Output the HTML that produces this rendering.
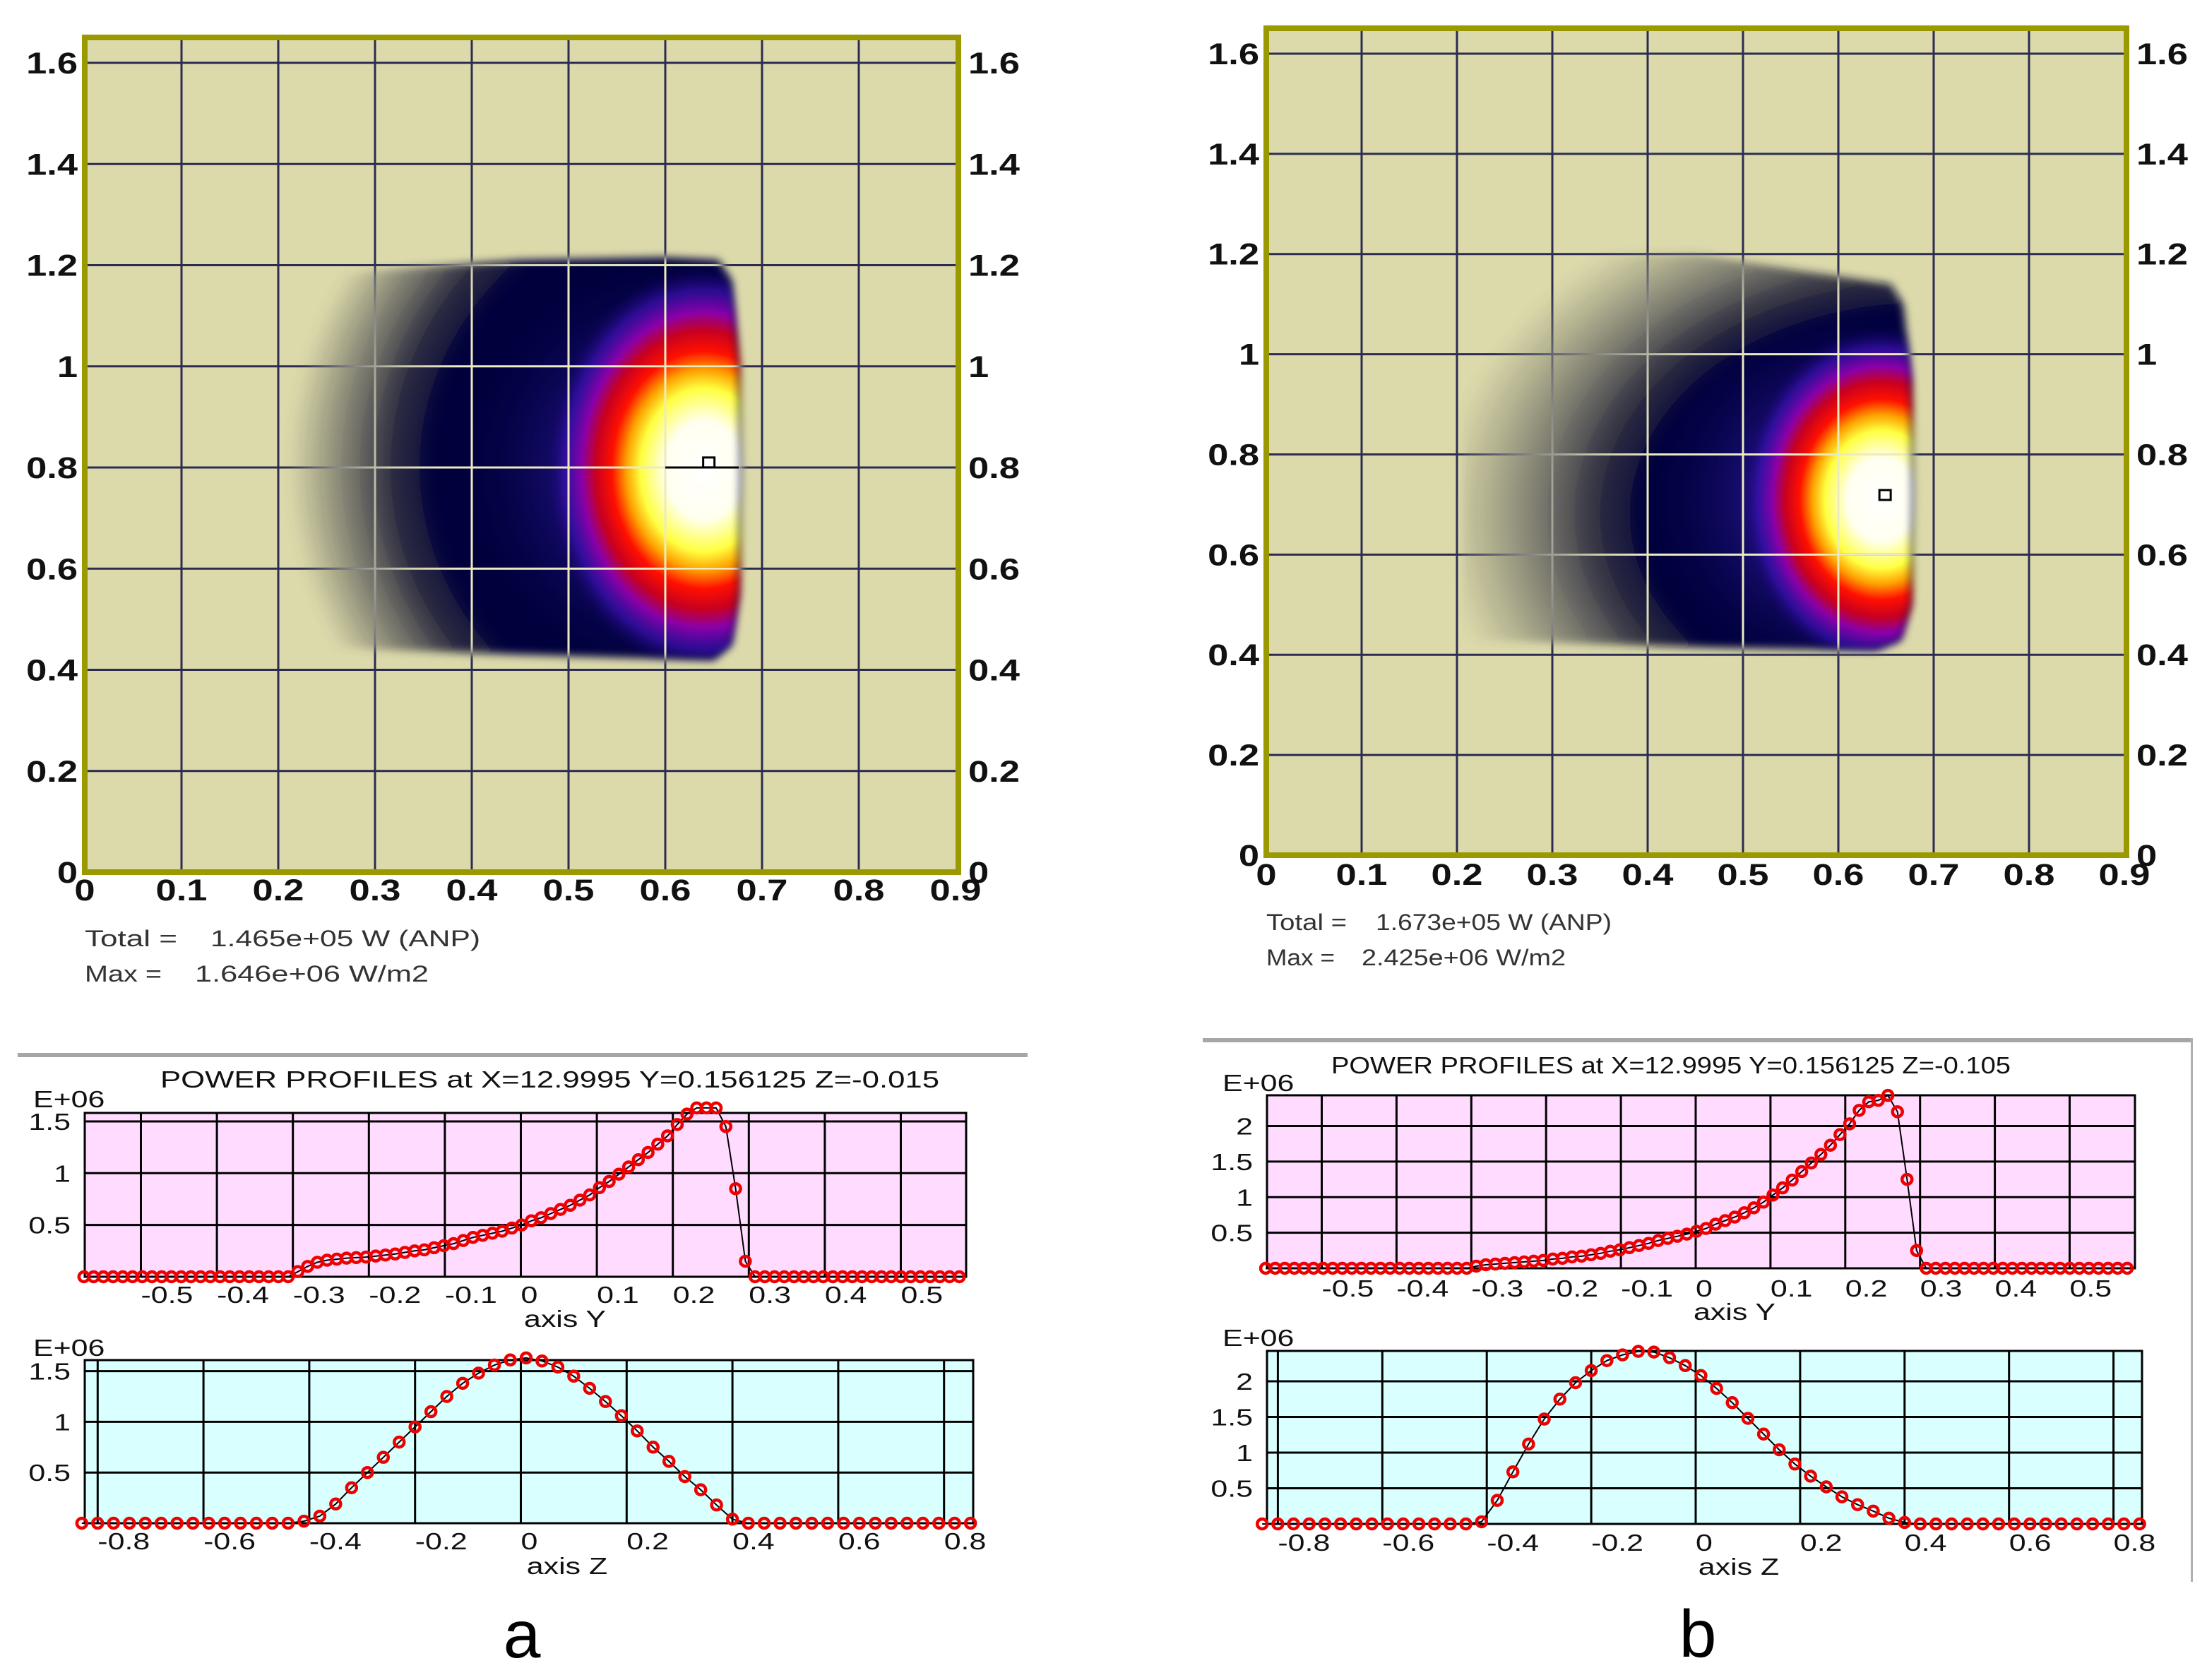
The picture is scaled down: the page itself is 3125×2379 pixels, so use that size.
<!DOCTYPE html>
<html><head><meta charset="utf-8">
<style>
html,body{margin:0;padding:0;background:#fff;}
svg{display:block;}
text{font-family:"Liberation Sans",sans-serif;}
</style></head>
<body>
<svg id="root" xmlns="http://www.w3.org/2000/svg" width="3125" height="2379" viewBox="0 0 3125 2379">
<rect x="0" y="0" width="3125" height="2379" fill="#ffffff"/>
<defs id="defs"></defs>
</svg>
<script>
// ---------- data ----------
const profYStart = -0.575;
const profYStep = 0.0128;
const profZStart = -0.83;
const profZStep = 0.03;
const aYVals = [0,0,0,0,0,0,0,0,0,0,0,0,0,0,0,0,0,0,0,0,0,0,
 0.05,0.10,0.14,0.16,0.17,0.18,0.185,0.19,0.20,0.21,0.22,0.235,0.25,0.26,0.28,0.30,0.32,0.35,0.38,0.40,
 0.42,0.44,0.47,0.50,0.54,0.57,0.61,0.65,0.69,0.74,0.79,0.86,0.92,0.99,1.06,1.13,1.20,1.28,1.36,1.47,
 1.57,1.63,1.63,1.63,1.45,0.85,0.15,
 0,0,0,0,0,0,0,0,0,0,0,0,0,0,0,0,0,0,0,0,0,0];
const bYVals = [0,0,0,0,0,0,0,0,0,0,0,0,0,0,0,0,0,0,0,0,0,0,
 0.03,0.05,0.06,0.07,0.08,0.09,0.10,0.11,0.13,0.14,0.16,0.17,0.19,0.21,0.24,0.26,0.29,0.32,0.35,0.39,
 0.42,0.45,0.48,0.52,0.56,0.62,0.67,0.72,0.78,0.85,0.93,1.03,1.13,1.24,1.36,1.48,1.60,1.73,1.88,2.03,
 2.22,2.34,2.36,2.43,2.20,1.25,0.25,
 0,0,0,0,0,0,0,0,0,0,0,0,0,0,0,0,0,0,0,0,0,0];
const aZVals = [0,0,0,0,0,0,0,0,0,0,0,0,0,0,
 0.02,0.07,0.19,0.35,0.50,0.65,0.80,0.95,1.10,1.25,1.38,1.48,1.56,1.61,1.63,1.60,1.54,1.45,1.33,1.20,
 1.06,0.91,0.75,0.61,0.46,0.33,0.18,0.04,
 0,0,0,0,0,0,0,0,0,0,0,0,0,0,0];
const bZVals = [0,0,0,0,0,0,0,0,0,0,0,0,0,0,
 0.03,0.33,0.73,1.12,1.47,1.75,1.98,2.15,2.29,2.37,2.42,2.41,2.33,2.22,2.08,1.90,1.70,1.48,1.26,1.04,
 0.84,0.67,0.52,0.38,0.27,0.18,0.08,0.02,
 0,0,0,0,0,0,0,0,0,0,0,0,0,0,0];
const yTickVals = [-0.5,-0.4,-0.3,-0.2,-0.1,0,0.1,0.2,0.3,0.4,0.5];
const yTickLabels = ["-0.5","-0.4","-0.3","-0.2","-0.1","0","0.1","0.2","0.3","0.4","0.5"];
const zTickVals = [-0.8,-0.6,-0.4,-0.2,0,0.2,0.4,0.6,0.8];
const zTickLabels = ["-0.8","-0.6","-0.4","-0.2","0","0.2","0.4","0.6","0.8"];
const aPowTicks = [0.5,1,1.5];
const aPowLabels = ["0.5","1","1.5"];
const bPowTicks = [0.5,1,1.5,2];
const bPowLabels = ["0.5","1","1.5","2"];
const heatXTicks = [0,0.1,0.2,0.3,0.4,0.5,0.6,0.7,0.8,0.9];
const heatXLabels = ["0","0.1","0.2","0.3","0.4","0.5","0.6","0.7","0.8","0.9"];
const heatYTicks = [0,0.2,0.4,0.6,0.8,1,1.2,1.4,1.6];
const heatYLabels = ["0","0.2","0.4","0.6","0.8","1","1.2","1.4","1.6"];
const aHotSpot = [0.64, 0.795];
const bHotSpot = [0.645, 0.71];
const aCursor = [0.645, 0.81];
const bCursor = [0.649, 0.719];

// ---------- helpers ----------
const NS = "http://www.w3.org/2000/svg";
const root = document.getElementById('root');
const defs = document.getElementById('defs');
function mk(tag, attrs, parent){
  const e = document.createElementNS(NS, tag);
  for (const k in attrs) e.setAttribute(k, attrs[k]);
  (parent || root).appendChild(e);
  return e;
}
function label(parent, x, y, str, size, anchor, bold, sx, fill){
  const g = mk('g', {transform:'translate('+x+','+y+') scale('+sx+',1)'}, parent);
  const t = mk('text', {x:0, y:0, 'font-size':size, 'text-anchor':anchor, 'font-weight':bold?'bold':'normal', fill:fill||'#111'}, g);
  t.textContent = str;
  return t;
}

// ---------- heatmaps ----------
function drawHeat(c, id){
  const g = mk('g', {});
  
  
  const X = v => c.x0 + v * c.kx;
  const Y = v => c.y0 - v * c.ky;
  const bg = mk('rect', {x:c.L, y:c.T, width:c.R-c.L, height:c.B-c.T, fill:'#dcdaab'}, g);
  
  
  const pts = arr => arr.map(p => X(p[0]).toFixed(1)+','+Y(p[1]).toFixed(1)).join(' ');
  const fb = mk('filter', {id:'blur'+id, x:'-20%', y:'-20%', width:'140%', height:'140%'}, defs);
  mk('feGaussianBlur', {stdDeviation:6}, fb);
  const cx = X(c.fadeC[0]), cy = Y(c.fadeC[1]);
  const gt = 'translate('+cx+','+cy+') scale(1,'+c.fadeSy+') translate('+(-cx)+','+(-cy)+')';
  const dg = mk('radialGradient', {id:'dark'+id, gradientUnits:'userSpaceOnUse', cx:cx, cy:cy, r:c.fadeR, fx:cx, fy:cy, gradientTransform:gt}, defs);
  c.fadeStops.forEach(s=>mk('stop',{offset:s[0],'stop-color':s[1],'stop-opacity':s[2]},dg));
  const mg = mk('radialGradient', {id:'mgrad'+id, gradientUnits:'userSpaceOnUse', cx:cx, cy:cy, r:c.fadeR, fx:cx, fy:cy, gradientTransform:gt}, defs);
  c.fadeStops.forEach(s=>mk('stop',{offset:s[0],'stop-color':'#fff','stop-opacity':s[2]},mg));
  const msk = mk('mask', {id:'mask'+id, maskUnits:'userSpaceOnUse', x:0, y:0, width:3125, height:2379}, defs);
  mk('polygon', {points:pts(c.shape), fill:'#fff', filter:'url(#blur'+id+')'}, msk);
  const msk2 = mk('mask', {id:'maskL'+id, maskUnits:'userSpaceOnUse', x:0, y:0, width:3125, height:2379}, defs);
  mk('polygon', {points:pts(c.shape), fill:'url(#mgrad'+id+')', filter:'url(#blur'+id+')'}, msk2);

  const blob = mk('g', {}, g);
  
  
  mk('polygon', {points:pts(c.shape), fill:'url(#dark'+id+')', filter:'url(#blur'+id+')'}, blob);
  const g1 = mk('radialGradient', {id:'glow'+id}, defs);
  [[0,'#5a28d0',0.95],[0.45,'#2a1898',0.65],[1,'#00003c',0]].forEach(s=>mk('stop',{offset:s[0],'stop-color':s[1],'stop-opacity':s[2]},g1));
  const g2 = mk('radialGradient', {id:'hot'+id}, defs);
  [[0,'#ffffff',1],[0.24,'#fffff0',1],[0.4,'#ffff40',1],[0.49,'#ffa000',1],[0.58,'#ff1000',1],[0.68,'#c80020',1],[0.77,'#8a00a8',1],[0.88,'#3a10b0',0.7],[1,'#10005e',0]].forEach(s=>mk('stop',{offset:s[0],'stop-color':s[1],'stop-opacity':s[2]},g2));
  const hg = mk('g', {mask:'url(#mask'+id+')'}, blob);
  mk('ellipse', {cx:X(c.hot[0]-0.03), cy:Y(c.hot[1]), rx:c.glowRx, ry:c.glowRy, fill:'url(#glow'+id+')'}, hg);
  const hotEl = mk('ellipse', {cx:X(c.hot[0]), cy:Y(c.hot[1]), rx:c.hotRx, ry:c.hotRy, fill:'url(#hot'+id+')'}, hg);
  
  
  // grid
  const grid = mk('g', {}, g);
  
  
  heatXTicks.forEach(v => { if (v>0 && v<0.89) mk('line', {x1:X(v), x2:X(v), y1:c.T, y2:c.B, stroke:'#2c2c52', 'stroke-width':3}, grid); });
  heatYTicks.forEach(v => { if (v>0) mk('line', {x1:c.L, x2:c.R, y1:Y(v), y2:Y(v), stroke:'#2c2c52', 'stroke-width':3}, grid); });
  const lg = mk('g', {mask:'url(#maskL'+id+')'}, grid);
  heatXTicks.forEach(v => { if (v>0 && v<0.89) mk('line', {x1:X(v), x2:X(v), y1:c.T, y2:c.B, stroke:'#ecebc0', 'stroke-width':3}, lg); });
  heatYTicks.forEach(v => { if (v>0) mk('line', {x1:c.L, x2:c.R, y1:Y(v), y2:Y(v), stroke:'#ecebc0', 'stroke-width':3}, lg); });
  // cursor
  if (c.cursorLine) mk('line', {x1:X(0.6), x2:X(0.676), y1:Y(c.cursor[1]-0.01), y2:Y(c.cursor[1]-0.01), stroke:'#000', 'stroke-width':3}, g);
  const cur = mk('rect', {x:X(c.cursor[0])-8, y:Y(c.cursor[1])-7, width:16, height:14, fill:'#fff', stroke:'#000', 'stroke-width':3}, g);
  
  
  // border
  const br = mk('rect', {x:c.L, y:c.T, width:c.R-c.L, height:c.B-c.T, fill:'none', stroke:'#9a9a00', 'stroke-width':8}, g);
  
  
  // labels
  heatYTicks.forEach((v,i) => {
    const t1 = label(g, c.L-10, Y(v)+15, heatYLabels[i], 43, 'end', true, 1.22);
    
    
    const t2 = label(g, c.R+14, Y(v)+15, heatYLabels[i], 43, 'start', true, 1.22);
    
    
  });
  heatXTicks.forEach((v,i) => {
    const t = label(g, X(v), c.B+c.xlOff, heatXLabels[i], 43, 'middle', true, 1.22);
    
    
  });
  // info
  const i1 = mk('text', {x:c.L, y:c.info1y, 'font-size':32, fill:'#333', textLength:c.tl, lengthAdjust:'spacingAndGlyphs'}, g);
  i1.textContent = 'Total =';
  
  
  const i2 = mk('text', {x:c.tv[0], y:c.info1y, 'font-size':32, fill:'#333', textLength:c.tv[1]-c.tv[0], lengthAdjust:'spacingAndGlyphs'}, g);
  i2.textContent = c.total;
  
  
  const i3 = mk('text', {x:c.L, y:c.info1y+50, 'font-size':32, fill:'#333', textLength:c.ml, lengthAdjust:'spacingAndGlyphs'}, g);
  i3.textContent = 'Max =';
  
  
  const i4 = mk('text', {x:c.mv[0], y:c.info1y+50, 'font-size':32, fill:'#333', textLength:c.mv[1]-c.mv[0], lengthAdjust:'spacingAndGlyphs'}, g);
  i4.textContent = c.max;
  
  
}

drawHeat({x0:120,kx:1370,y0:1235,ky:716.25,L:120,R:1357,T:53,B:1235,xlOff:40,
  shape:[[0.205,1.17],[0.3,1.19],[0.45,1.21],[0.6,1.215],[0.655,1.21],[0.668,1.17],[0.676,1.0],[0.678,0.8],[0.676,0.55],[0.668,0.45],[0.65,0.42],[0.55,0.425],[0.45,0.43],[0.3,0.44],[0.205,0.45]],
  fadeC:[0.69,0.8], fadeR:660, fadeSy:0.88,
  fadeStops:[[0,'#00003c',1],[0.68,'#00003c',1],[0.78,'#141430',0.85],[0.9,'#3a3a44',0.45],[1,'#55554c',0]],
  hot:aHotSpot, hotRx:225, hotRy:290, glowRx:320, glowRy:320, cursor:aCursor, cursorLine:true,
  info1y:1340, tl:131, ml:109, tv:[298,680], mv:[276,607], total:'1.465e+05 W (ANP)', max:'1.646e+06 W/m2'}, 'a');

drawHeat({x0:1793,kx:1350,y0:1211,ky:709.4,L:1793,R:3011,T:40,B:1211,xlOff:42,
  shape:[[0.205,1.2],[0.45,1.2],[0.55,1.17],[0.62,1.15],[0.655,1.14],[0.668,1.1],[0.676,0.95],[0.678,0.72],[0.676,0.5],[0.665,0.43],[0.64,0.41],[0.45,0.415],[0.205,0.43]],
  fadeC:[0.69,0.68], fadeR:690, fadeSy:0.72,
  fadeStops:[[0,'#00003c',1],[0.57,'#00003c',1],[0.68,'#161630',0.85],[0.85,'#3a3a44',0.4],[1,'#55554c',0]],
  hot:bHotSpot, hotRx:200, hotRy:245, glowRx:310, glowRy:290, cursor:bCursor, cursorLine:false,
  info1y:1317, tl:114, ml:97, tv:[1948,2282], mv:[1928,2217], total:'1.673e+05 W (ANP)', max:'2.425e+06 W/m2'}, 'b');

// ---------- profiles ----------
function drawProfile(c, vals, start, step, xt, xl, yt, yl, name, bgc){
  const g = mk('g', {});
  
  
  const X = v => c.x0 + v * c.kx;
  const Y = v => c.y0 - v * c.ky;
  const bg = mk('rect', {x:c.L, y:c.T, width:c.R-c.L, height:c.B-c.T, fill:bgc}, g);
  
  
  xt.forEach(v => mk('line', {x1:X(v), x2:X(v), y1:c.T, y2:c.B, stroke:'#000', 'stroke-width':3}, g));
  yt.forEach(v => mk('line', {x1:c.L, x2:c.R, y1:Y(v), y2:Y(v), stroke:'#000', 'stroke-width':3}, g));
  const fr = mk('rect', {x:c.L, y:c.T, width:c.R-c.L, height:c.B-c.T, fill:'none', stroke:'#000', 'stroke-width':3}, g);
  
  
  const d = vals.map((v,i) => (i?'L':'M') + X(start+i*step).toFixed(1) + ',' + Y(v).toFixed(1)).join(' ');
  const ln = mk('path', {d:d, fill:'none', stroke:'#000', 'stroke-width':2}, g);
  
  
  vals.forEach((v,i) => {
    const m = mk('circle', {cx:X(start+i*step), cy:Y(v), r:7, fill:'none', stroke:'#ee0000', 'stroke-width':4.5}, g);
    
    
  });
  xt.forEach((v,i) => {
    const t = label(g, X(v), c.xlY, xl[i], 33, 'start', false, 1.3);
    
    
  });
  yt.forEach((v,i) => {
    const t = label(g, c.L-20, Y(v)+12, yl[i], 33, 'end', false, 1.3);
    
    
  });
  const e = label(g, c.eX, c.eY, 'E+06', 33, 'start', false, 1.3);
  
  
  const at = label(g, c.axX, c.axY, c.axTitle, 33, 'middle', false, 1.3);
  
  
}

drawProfile({L:120,R:1368,T:1576,B:1808,x0:737.5,kx:1076,y0:1808,ky:146.7,xlY:1845,eX:47,eY:1568,axX:800,axY:1879,axTitle:'axis Y'},
  aYVals, profYStart, profYStep, yTickVals, yTickLabels, aPowTicks, aPowLabels, 'profile-y-a', '#ffdcff');
drawProfile({L:120,R:1378,T:1926,B:2157,x0:737.5,kx:749,y0:2157,ky:143.6,xlY:2194,eX:47,eY:1920,axX:803,axY:2229,axTitle:'axis Z'},
  aZVals, profZStart, profZStep, zTickVals, zTickLabels, aPowTicks, aPowLabels, 'profile-z-a', '#d9ffff');
drawProfile({L:1794,R:3023,T:1551,B:1796,x0:2401,kx:1059,y0:1796,ky:100.75,xlY:1836,eX:1731,eY:1545,axX:2456,axY:1869,axTitle:'axis Y'},
  bYVals, profYStart, profYStep, yTickVals, yTickLabels, bPowTicks, bPowLabels, 'profile-y-b', '#ffdcff');
drawProfile({L:1794,R:3033,T:1913,B:2158,x0:2401,kx:739.5,y0:2158,ky:101,xlY:2196,eX:1731,eY:1906,axX:2462,axY:2230,axTitle:'axis Z'},
  bZVals, profZStart, profZStep, zTickVals, zTickLabels, bPowTicks, bPowLabels, 'profile-z-b', '#d9ffff');

// separators and titles
const s1 = mk('rect', {x:25, y:1491, width:1430, height:6, fill:'#a6a6a6'});


const s2 = mk('rect', {x:1703, y:1470, width:1402, height:6, fill:'#a6a6a6'});


const s3 = mk('rect', {x:3102, y:1470, width:3, height:770, fill:'#b0b0b0'});


const t1 = mk('text', {x:227, y:1540, 'font-size':33, fill:'#111', textLength:1103, lengthAdjust:'spacingAndGlyphs'});
t1.textContent = 'POWER PROFILES  at  X=12.9995 Y=0.156125 Z=-0.015';


const t2 = mk('text', {x:1885, y:1520, 'font-size':33, fill:'#111', textLength:962, lengthAdjust:'spacingAndGlyphs'});
t2.textContent = 'POWER PROFILES  at  X=12.9995 Y=0.156125 Z=-0.105';


const la = mk('text', {x:739, y:2347, 'font-size':95, 'text-anchor':'middle', 'font-family':'Liberation Serif, serif', fill:'#000'});
la.textContent = 'a';


const lb = mk('text', {x:2404, y:2346, 'font-size':95, 'text-anchor':'middle', 'font-family':'Liberation Serif, serif', fill:'#000'});
lb.textContent = 'b';


</script>
</body></html>
